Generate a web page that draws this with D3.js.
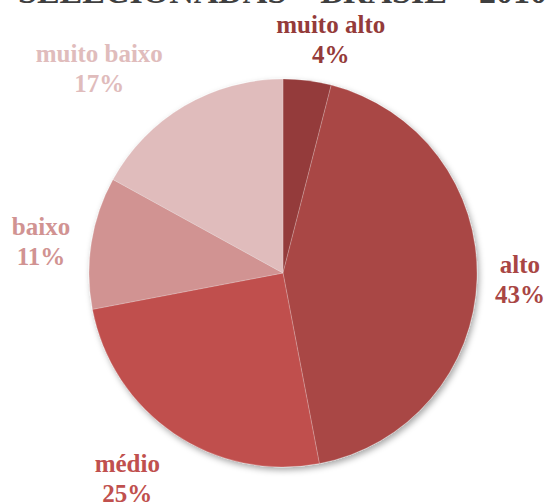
<!DOCTYPE html>
<html>
<head>
<meta charset="utf-8">
<script src="https://cdn.jsdelivr.net/npm/d3@7"></script>
<style>
  body { margin: 0; background: #fff; }
  text { font-family: "Liberation Serif", "Times New Roman", serif; font-weight: bold; }
</style>
</head>
<body>
<div id="chart"></div>
<script>
const categories = ['muito alto', 'alto', 'médio', 'baixo', 'muito baixo'];
const percents = [4, 43, 25, 11, 17];
const colors = ['#943b3a', '#a94644', '#c0504e', '#d19392', '#e0bcbc'];
const titleText = 'SELECIONADAS – BRASIL – 2010';

const width = 549,
  height = 504;

const cx = 283, cy = 273, radius = 194;

// label nudges from the arc centroid (the original uses best-fit placement)
const labelRadius = 245;
const labelNudge = [[17, 3], [-8, -8], [-18, -4], [0, 0], [-59, 0]];

const svg = d3.select('#chart')
  .append('svg')
  .attr('width', width)
  .attr('height', height);

const defs = svg.append('defs');
const shadow = defs.append('filter')
  .attr('id', 'shadow')
  .attr('x', '-20%').attr('y', '-20%')
  .attr('width', '140%').attr('height', '140%');
shadow.append('feDropShadow')
  .attr('dx', 2).attr('dy', 3)
  .attr('stdDeviation', 3)
  .attr('flood-color', '#000')
  .attr('flood-opacity', 0.35);

// cut-off title at the very top
svg.append('text')
  .attr('x', 18)
  .attr('y', 3)
  .attr('font-size', 34)
  .attr('fill', '#3f3f3f')
  .text(titleText);

const pie = d3.pie().sort(null).value(d => d);
const arcs = pie(percents);

const arc = d3.arc().innerRadius(0).outerRadius(radius);
const labelArc = d3.arc().innerRadius(labelRadius).outerRadius(labelRadius);

const g = svg.append('g')
  .attr('transform', `translate(${cx}, ${cy})`);

g.append('g')
  .attr('filter', 'url(#shadow)')
  .selectAll('path')
  .data(arcs)
  .join('path')
    .attr('d', arc)
    .attr('fill', (_, i) => colors[i])
    .attr('stroke', '#ffffff')
    .attr('stroke-opacity', 0.35)
    .attr('stroke-width', 0.6);

const labels = g.selectAll('text.label')
  .data(arcs)
  .join('text')
    .attr('class', 'label')
    .attr('text-anchor', 'middle')
    .attr('font-size', 25)
    .attr('fill', (_, i) => colors[i])
    .attr('transform', (d, i) => {
      const [x, y] = labelArc.centroid(d);
      return `translate(${x + labelNudge[i][0]}, ${y + labelNudge[i][1]})`;
    });

labels.append('tspan')
  .attr('x', 0)
  .attr('y', 0)
  .text((_, i) => categories[i]);
labels.append('tspan')
  .attr('x', 0)
  .attr('y', 30)
  .text((_, i) => percents[i] + '%');
</script>
</body>
</html>
